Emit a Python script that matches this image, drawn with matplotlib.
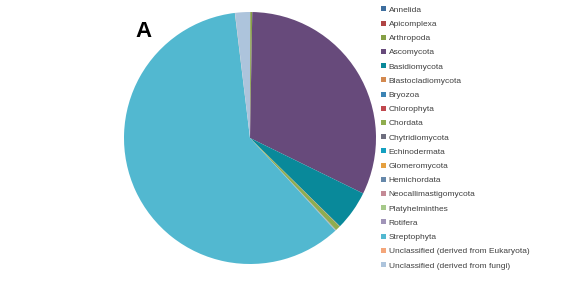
import matplotlib
matplotlib.use("Agg")
import matplotlib.pyplot as plt

# phylum share of reads (%)
phyla = ["Annelida", "Apicomplexa", "Arthropoda", "Ascomycota", "Basidiomycota",
         "Blastocladiomycota", "Bryozoa", "Chlorophyta", "Chordata", "Chytridiomycota",
         "Echinodermata", "Glomeromycota", "Hemichordata", "Neocallimastigomycota",
         "Platyhelminthes", "Rotifera", "Streptophyta",
         "Unclassified (derived from Eukaryota)", "Unclassified (derived from fungi)"]
share = [0.02, 0.02, 0.25, 32.0, 5.1,
         0.02, 0.02, 0.02, 0.6, 0.02,
         0.02, 0.02, 0.02, 0.02,
         0.02, 0.02, 60.0,
         0.02, 1.9]
colors = ["#3e6e9e", "#b04444", "#86a046", "#674a7b", "#09899a",
          "#d3894f", "#3c84b4", "#c0484e", "#8fad4e", "#6e6e7e",
          "#14a0c0", "#e5a040", "#6688aa", "#c48a96",
          "#a6c98a", "#a094b8", "#52b8d0",
          "#f4a67a", "#adc4dc"]

plt.rcParams['font.family'] = ['Liberation Sans', 'DejaVu Sans']

fig = plt.figure(figsize=(5.64, 2.82), dpi=100, facecolor='white')
ax = fig.add_axes([124/564, (282-138-126)/282, 252/564, 252/282])
wedges, _ = ax.pie(share, colors=colors, startangle=90, counterclock=False,
                   wedgeprops=dict(linewidth=0))
ax.set_xlim(-1, 1)
ax.set_ylim(-1, 1)
ax.set_aspect('equal')

fig.text(143.5/564, 1-31.5/282, "A", fontsize=16, fontweight='bold',
         ha='center', va='center', color='black')

fig.legend(wedges, phyla, loc='upper left', bbox_to_anchor=(378/564, 1-3/282),
           frameon=False, fontsize=6, handlelength=0.55, handleheight=0.55,
           handletextpad=0.35, labelspacing=0.81, borderaxespad=0,
           labelcolor='#404040')

fig.savefig("out.png", dpi=100, facecolor='white')
